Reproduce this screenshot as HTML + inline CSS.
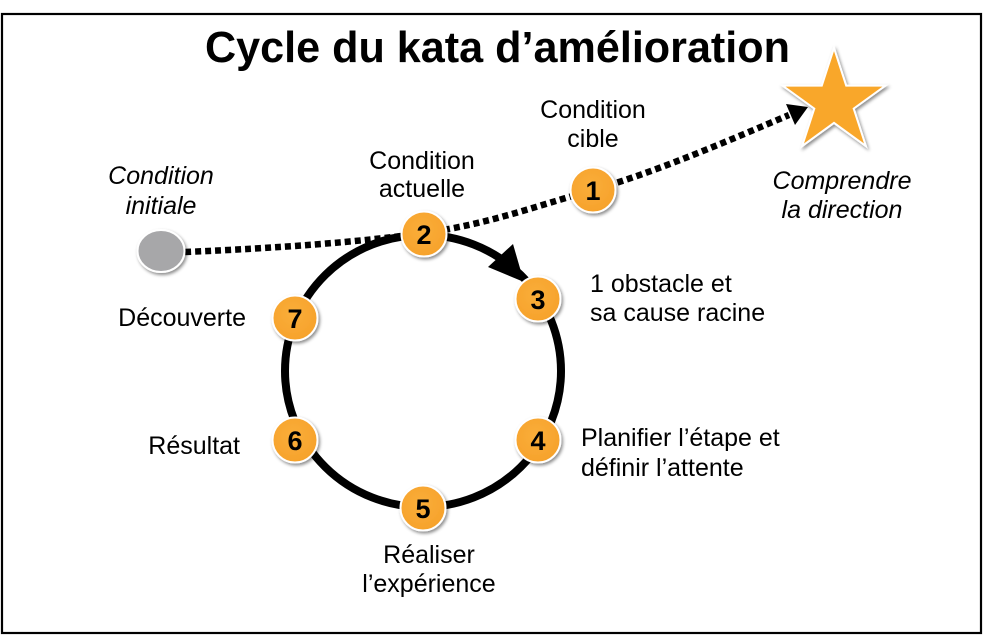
<!DOCTYPE html>
<html>
<head>
<meta charset="utf-8">
<style>
  html, body { margin:0; padding:0; background:#fff; }
  svg { display:block; }
  .lbl { font-family:"Liberation Sans", Arial, sans-serif; font-size:25px; fill:#000; }
  .it { font-style:italic; }
  .num { font-family:"Liberation Sans", Arial, sans-serif; font-size:27px; font-weight:bold; fill:#000; text-anchor:middle; }
</style>
</head>
<body>
<svg width="984" height="637" viewBox="0 0 984 637" xmlns="http://www.w3.org/2000/svg">
  <defs>
    <filter id="sh" x="-30%" y="-30%" width="170%" height="170%">
      <feDropShadow dx="1.5" dy="2" stdDeviation="1.5" flood-color="#000" flood-opacity="0.45"/>
    </filter>
    <radialGradient id="og" cx="45%" cy="40%" r="65%">
      <stop offset="0%" stop-color="#FAAE3A"/>
      <stop offset="100%" stop-color="#F6A12A"/>
    </radialGradient>
  </defs>

  <!-- frame -->
  <rect x="2" y="14" width="979" height="619" fill="none" stroke="#000" stroke-width="2.2"/>

  <!-- title -->
  <text x="205" y="62" font-family="'Liberation Sans', Arial, sans-serif" font-size="44" font-weight="bold" textLength="585" lengthAdjust="spacingAndGlyphs">Cycle du kata d’amélioration</text>

  <!-- main cycle circle -->
  <ellipse cx="423" cy="371" rx="138" ry="136" fill="none" stroke="#000" stroke-width="8"/>
  <!-- arrowhead on cycle -->
  <polygon points="524,282 488,267 513,244" fill="#000"/>

  <!-- dotted path -->
  <path d="M185,252 C280,248 360,242 424,233 S530,208 593,190 S730,140 789,115" fill="none" stroke="#000" stroke-width="6.5" stroke-dasharray="6 4"/>
  <polygon points="808,107 795,125 786,104" fill="#000"/>

  <!-- grey start -->
  <ellipse cx="161" cy="251" rx="23.5" ry="21" fill="#A7A7A9" stroke="#fff" stroke-width="2" filter="url(#sh)"/>

  <!-- star -->
  <polygon filter="url(#sh)" fill="#F9A72C" stroke="#fff" stroke-width="2"
    points="834,48 846.2,85.6 885.6,85.5 853.7,108.6 865.9,146.1 834,122.9 802.1,146.1 814.3,108.6 782.4,85.5 821.8,85.6"/>

  <!-- nodes -->
  <g filter="url(#sh)" fill="url(#og)" stroke="#fff" stroke-width="2">
    <circle cx="593" cy="190" r="22.5"/>
    <circle cx="424" cy="234" r="22.5"/>
    <circle cx="538" cy="299" r="22.5"/>
    <circle cx="538" cy="440" r="22.5"/>
    <circle cx="423" cy="508" r="22.5"/>
    <circle cx="295" cy="440" r="22.5"/>
    <circle cx="295" cy="318" r="22.5"/>
  </g>
  <text class="num" x="593" y="200">1</text>
  <text class="num" x="424" y="244">2</text>
  <text class="num" x="538" y="309">3</text>
  <text class="num" x="538" y="450">4</text>
  <text class="num" x="423" y="518">5</text>
  <text class="num" x="295" y="450">6</text>
  <text class="num" x="295" y="328">7</text>

  <!-- labels -->
  <text class="lbl" x="593" y="118" text-anchor="middle">Condition</text>
  <text class="lbl" x="593" y="147" text-anchor="middle">cible</text>

  <text class="lbl" x="422" y="169" text-anchor="middle">Condition</text>
  <text class="lbl" x="422" y="197" text-anchor="middle">actuelle</text>

  <text class="lbl it" x="161" y="184" text-anchor="middle">Condition</text>
  <text class="lbl it" x="161" y="214" text-anchor="middle">initiale</text>

  <text class="lbl it" x="842" y="189" text-anchor="middle">Comprendre</text>
  <text class="lbl it" x="842" y="218" text-anchor="middle">la direction</text>

  <text class="lbl" x="590" y="292">1 obstacle et</text>
  <text class="lbl" x="590" y="321">sa cause racine</text>

  <text class="lbl" x="581" y="446">Planifier l’étape et</text>
  <text class="lbl" x="581" y="476">définir l’attente</text>

  <text class="lbl" x="246" y="326" text-anchor="end">Découverte</text>
  <text class="lbl" x="240" y="454" text-anchor="end">Résultat</text>

  <text class="lbl" x="429" y="563" text-anchor="middle">Réaliser</text>
  <text class="lbl" x="429" y="592" text-anchor="middle">l’expérience</text>
</svg>
</body>
</html>
